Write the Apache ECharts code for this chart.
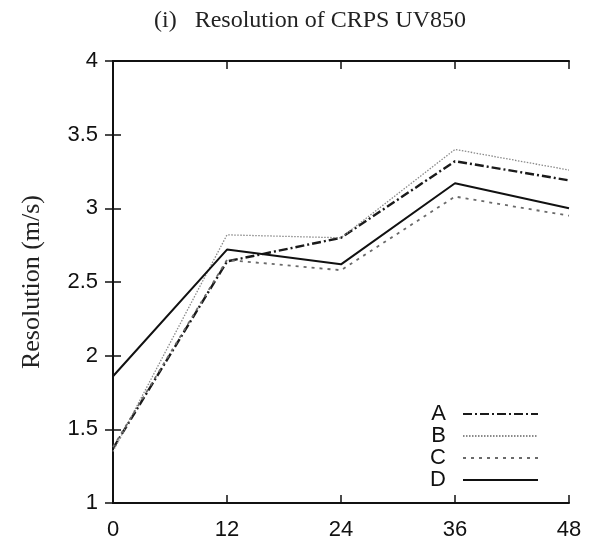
<!DOCTYPE html>
<html>
<head>
<meta charset="utf-8">
<script src="https://cdn.jsdelivr.net/npm/echarts@6/dist/echarts.min.js"></script>
<style>html,body{margin:0;padding:0;background:#fff;}#chart{width:591px;height:543px;}</style>
</head>
<body>
<div id="chart"></div>
<script>
const leadTimes = [0, 12, 24, 36, 48];
const seriesNames = ['A', 'B', 'C', 'D'];
const valuesA = [1.37, 2.64, 2.80, 3.32, 3.19];
const valuesB = [1.35, 2.82, 2.80, 3.40, 3.26];
const valuesC = [1.38, 2.65, 2.58, 3.08, 2.95];
const valuesD = [1.86, 2.72, 2.62, 3.17, 3.00];
const titleText = '(i)   Resolution of CRPS UV850';
const yAxisName = 'Resolution (m/s)';

const pair = vals => leadTimes.map((x, i) => [x, vals[i]]);
const styles = {
  A: {color: '#1a1a1a', width: 2.4, type: [9, 3, 2, 3]},
  B: {color: '#8a8a8a', width: 1.3, type: [1.5, 1.5]},
  C: {color: '#6a6a6a', width: 1.8, type: [3, 5]},
  D: {color: '#111111', width: 2, type: 'solid'}
};
const allVals = {A: valuesA, B: valuesB, C: valuesC, D: valuesD};

const frame = {show: true, lineStyle: {color: '#111', width: 2}};
const chart = echarts.init(document.getElementById('chart'), null, {renderer: 'canvas'});
chart.setOption({
  animation: false,
  backgroundColor: '#fff',
  title: {
    text: titleText, left: 149, top: 4,
    textStyle: {fontFamily: 'Liberation Serif', fontSize: 24, fontWeight: 'normal', color: '#222'}
  },
  legend: {
    orient: 'vertical', right: 47, top: 398, align: 'right',
    itemWidth: 75, itemHeight: 14, itemGap: 0,
    data: seriesNames,
    itemStyle: {opacity: 0},
    textStyle: {fontFamily: 'Liberation Sans', fontSize: 22, lineHeight: 22, color: '#111', padding: [0, 12, 0, 0]}
  },
  grid: {left: 113, right: 22, top: 61, bottom: 40, containLabel: false},
  xAxis: [
    {type: 'value', min: 0, max: 48, interval: 12, position: 'bottom',
     axisLine: frame, splitLine: {show: false},
     axisTick: {inside: true, length: 8, lineStyle: {color: '#111', width: 1.5}},
     axisLabel: {margin: 16, fontFamily: 'Liberation Sans', fontSize: 22, color: '#111'}},
    {type: 'value', min: 0, max: 48, interval: 12, position: 'top',
     axisLine: frame, splitLine: {show: false},
     axisTick: {inside: true, length: 8, lineStyle: {color: '#111', width: 1.5}},
     axisLabel: {show: false}}
  ],
  yAxis: [
    {type: 'value', min: 1, max: 4, interval: 0.5, position: 'left',
     name: yAxisName, nameLocation: 'middle', nameGap: 68,
     nameTextStyle: {fontFamily: 'Liberation Serif', fontSize: 26, color: '#222'},
     axisLine: frame, splitLine: {show: false},
     axisTick: {inside: true, length: 8, lineStyle: {color: '#111', width: 1.5}},
     axisLabel: {margin: 15, fontFamily: 'Liberation Sans', fontSize: 22, color: '#111'}},
    {type: 'value', min: 1, max: 4, interval: 0.5, position: 'right',
     axisLine: frame, splitLine: {show: false},
     axisTick: {inside: true, length: 8, lineStyle: {color: '#111', width: 1.5}},
     axisLabel: {show: false}}
  ],
  series: seriesNames.map(n => ({
    name: n, type: 'line', xAxisIndex: 0, yAxisIndex: 0,
    data: pair(allVals[n]), symbol: 'none', showSymbol: false,
    lineStyle: styles[n], itemStyle: {color: styles[n].color},
    z: n === 'D' ? 5 : 3
  }))
});
</script>
</body>
</html>
